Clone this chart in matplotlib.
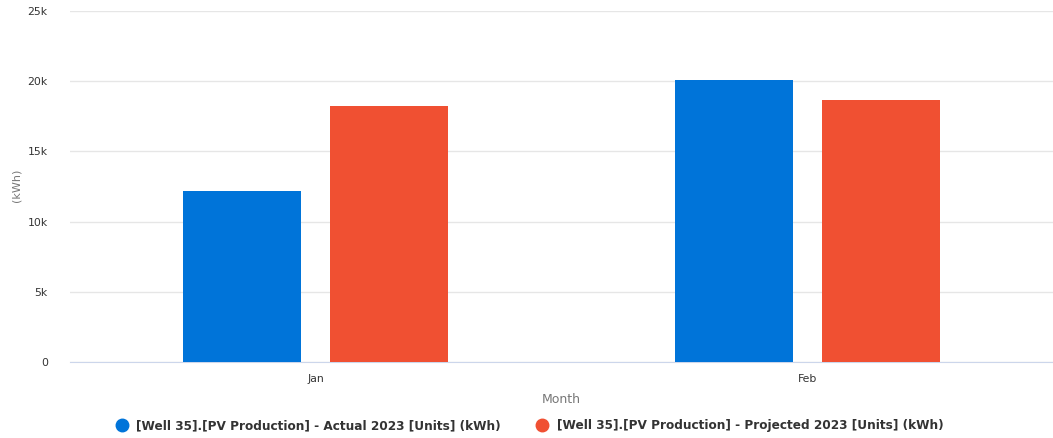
import matplotlib.pyplot as plt
import numpy as np
from matplotlib.lines import Line2D

months = ["Jan", "Feb"]
actual = [12180, 20060]
projected = [18250, 18660]
series_names = ["[Well 35].[PV Production] - Actual 2023 [Units] (kWh)",
                "[Well 35].[PV Production] - Projected 2023 [Units] (kWh)"]
colors = ["#0074d9", "#f05032"]

fig = plt.figure(figsize=(10.53, 4.38), dpi=100)
ax = fig.add_axes([70 / 1053, 76 / 438, 983 / 1053, 351 / 438])

x = np.arange(len(months))
w = 0.24
ax.bar(x - 0.15, actual, w, color=colors[0], zorder=3)
ax.bar(x + 0.15, projected, w, color=colors[1], zorder=3)

ax.set_xlim(-0.5, 1.5)
ax.set_ylim(0, 25000)
ax.set_yticks(np.arange(0, 25001, 5000))
ax.set_yticklabels(["0", "5k", "10k", "15k", "20k", "25k"])
ax.set_xticks(x)
ax.set_xticklabels(months)
ax.tick_params(axis="both", length=0, labelsize=7.8, colors="#333333")
ax.tick_params(axis="y", pad=16)
ax.tick_params(axis="x", pad=9)
ax.grid(axis="y", color="#e6e6e6", linewidth=1, zorder=0)
for s in ["top", "right", "left"]:
    ax.spines[s].set_visible(False)
ax.spines["bottom"].set_color("#ccd6eb")

ax.set_xlabel("Month", color="#777777", fontsize=9, labelpad=6)
fig.text(16 / 1053, 1 - 185 / 438, "(kWh)", rotation=90, color="#777777",
         fontsize=8, ha="center", va="center")

handles = [Line2D([], [], marker="o", linestyle="", markersize=9, color=c) for c in colors]
fig.legend(handles, series_names, loc="center", bbox_to_anchor=(0.5, 1 - 426 / 438),
           ncol=2, frameon=False, handletextpad=0.2, columnspacing=2.4,
           prop={"size": 8.7, "weight": "bold"}, labelcolor="#333333")

fig.savefig("out.png", dpi=100)
